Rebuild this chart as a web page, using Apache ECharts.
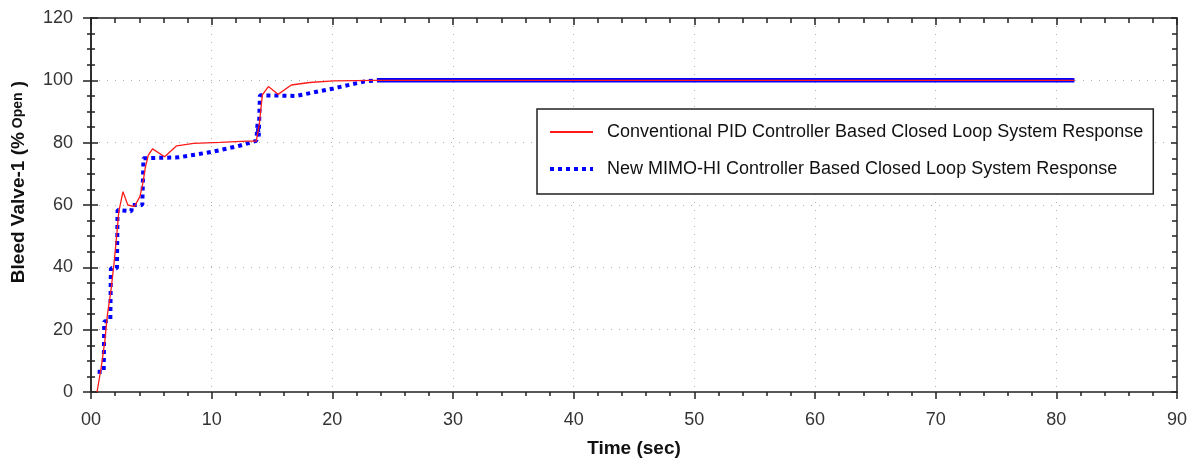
<!DOCTYPE html>
<html>
<head>
<meta charset="utf-8">
<script src="https://cdn.jsdelivr.net/npm/echarts@6/dist/echarts.min.js"></script>
<style>
  html,body{margin:0;padding:0;background:#fff;}
  #chart{width:1196px;height:463px;}
</style>
</head>
<body>
<div id="chart"></div>
<script>
  // series names
  var pidName = 'Conventional PID Controller Based Closed Loop System Response';
  var mimoName = 'New MIMO-HI Controller Based Closed Loop System Response';

  // conventional PID response (time in sec, valve % open)
  var pidTime = [0.5, 0.85, 1.15, 1.35, 1.65, 1.9, 2.1, 2.3, 2.65, 3.05, 3.6, 4.05, 4.3, 4.5, 4.75, 5.1, 6.1, 7.1, 8.5, 10.7, 12.9, 13.7, 13.95, 14.2, 14.7, 15.5, 16.6, 18.1, 20.1, 23.7, 81.5];
  var pidValue = [0, 8, 16.5, 24.5, 32.5, 41, 49, 57.8, 64.3, 60, 59.5, 62.7, 67, 72, 76, 78, 75.5, 79, 79.8, 80.1, 80.5, 80.5, 86, 95.3, 98, 95.5, 98.5, 99.3, 99.8, 100, 100];

  // MIMO-HI response
  var mimoTime = [0.55, 1.05, 1.1, 1.6, 1.65, 2.15, 2.2, 3.35, 3.4, 4.25, 4.35, 7.3, 10.1, 12.3, 13.45, 13.7, 13.8, 13.9, 14.0, 17.0, 20.1, 22.6, 23.7, 81.5];
  var mimoValue = [6.5, 6.4, 22.6, 23, 39.7, 39.7, 58.4, 58, 60, 60, 75, 75.3, 77.1, 79, 80.3, 80.6, 86, 82, 95.2, 95, 97.4, 99.6, 100, 100];
  var steadyFrom = 23.7; // from here the MIMO trace is drawn as a solid band

  // tick labels
  var xTickLabels = ['00', '10', '20', '30', '40', '50', '60', '70', '80', '90'];
  var yTickLabels = ['0', '20', '40', '60', '80', '100', '120'];

  function pairs(t, v){
    var out = [];
    for (var i = 0; i < t.length; i++) out.push([t[i], v[i]]);
    return out;
  }
  var pidData = pairs(pidTime, pidValue);
  var mimoAll = pairs(mimoTime, mimoValue);
  var mimoTransient = mimoAll.filter(function(p){ return p[0] <= steadyFrom; });
  var mimoSteady = mimoAll.filter(function(p){ return p[0] >= steadyFrom; });

  var axisColor = '#222';
  var labelFont = {color:'#333', fontSize:18, fontFamily:'Liberation Sans'};
  var gridLine = {show:true, showMinLine:false, showMaxLine:false, lineStyle:{color:'#b0b0b0', width:1, type:[1, 7]}};

  var myChart = echarts.init(document.getElementById('chart'));
  var option = {
    animation: false,
    backgroundColor: '#fff',
    grid: {left:91, right:19, top:18, bottom:71, containLabel:false},
    legend: {
      orient: 'vertical',
      left: 537,
      top: 109,
      data: [
        {name: pidName},
        {name: mimoName, lineStyle: {width:4, type:[4, 4], color:'#0000ff'}}
      ],
      itemWidth: 43,
      itemHeight: 14,
      itemGap: 19,
      padding: [14, 10, 16, 11],
      borderColor: axisColor,
      borderWidth: 1.5,
      backgroundColor: '#fff',
      selectedMode: false,
      itemStyle: {opacity:0},
      textStyle: {fontSize:18, color:'#111', fontFamily:'Liberation Sans', padding:[0, 0, 0, 9]}
    },
    xAxis: [
      {
        type: 'value', min: 0, max: 90, interval: 10, position: 'bottom',
        axisLine: {show:true, onZero:false, lineStyle:{color:axisColor, width:1.5}},
        axisTick: {show:true, inside:false, length:7, lineStyle:{color:axisColor, width:1.5}},
        minorTick: {show:true, splitNumber:5, length:4, lineStyle:{color:axisColor, width:1.5}},
        splitLine: gridLine,
        axisLabel: Object.assign({margin:19, formatter:function(v){ return xTickLabels[Math.round(v / 10)]; }}, labelFont),
        name: 'Time (sec)',
        nameLocation: 'middle',
        nameGap: 47,
        nameTextStyle: {fontSize:19, fontWeight:'bold', color:'#111', fontFamily:'Liberation Sans'}
      },
      {
        type: 'value', min: 0, max: 90, interval: 10, position: 'top',
        axisLine: {show:true, onZero:false, lineStyle:{color:axisColor, width:1.5}},
        axisTick: {show:true, inside:true, length:7, lineStyle:{color:axisColor, width:1.5}},
        minorTick: {show:true, splitNumber:5, length:5, lineStyle:{color:axisColor, width:1.5}},
        splitLine: {show:false},
        axisLabel: {show:false}
      }
    ],
    yAxis: [
      {
        type: 'value', min: 0, max: 120, interval: 20, position: 'left',
        axisLine: {show:true, onZero:false, lineStyle:{color:axisColor, width:1.5}},
        axisTick: {show:true, inside:false, length:8, lineStyle:{color:axisColor, width:1.5}},
        minorTick: {show:true, splitNumber:4, length:4, lineStyle:{color:axisColor, width:1.5}},
        splitLine: gridLine,
        axisLabel: Object.assign({margin:18, formatter:function(v){ return yTickLabels[Math.round(v / 20)]; }}, labelFont),
        name: '{a|Bleed Valve-1 (%}{b| Open}{a| )}',
        nameLocation: 'middle',
        nameGap: 63,
        nameTextStyle: {
          padding: [0, 0, 0, 46],
          rich: {
            a: {fontSize:19, fontWeight:'bold', color:'#111', fontFamily:'Liberation Sans'},
            b: {fontSize:14, fontWeight:'bold', color:'#111', fontFamily:'Liberation Sans'}
          }
        }
      },
      {
        type: 'value', min: 0, max: 120, interval: 20, position: 'left',
        axisLine: {show:true, onZero:false, lineStyle:{color:axisColor, width:1.5}},
        axisTick: {show:true, inside:true, length:7, lineStyle:{color:axisColor, width:1.5}},
        minorTick: {show:true, splitNumber:4, length:4, lineStyle:{color:axisColor, width:1.5}},
        splitLine: {show:false},
        axisLabel: {show:false}
      },
      {
        type: 'value', min: 0, max: 120, interval: 20, position: 'right',
        axisLine: {show:true, onZero:false, lineStyle:{color:axisColor, width:1.5}},
        axisTick: {show:true, inside:true, length:6, lineStyle:{color:axisColor, width:1.5}},
        minorTick: {show:true, splitNumber:4, length:5, lineStyle:{color:axisColor, width:1.5}},
        splitLine: {show:false},
        axisLabel: {show:false}
      }
    ],
    series: [
      {
        name: mimoName,
        type: 'line',
        data: mimoTransient,
        showSymbol: false,
        symbol: 'none',
        color: '#0000ff',
        lineStyle: {color:'#0000ff', width:4, type:[4, 4], cap:'butt'},
        z: 2
      },
      {
        name: mimoName,
        type: 'line',
        data: mimoSteady,
        showSymbol: false,
        symbol: 'none',
        color: '#0000ff',
        lineStyle: {color:'#0000ff', width:4.5, type:'solid'},
        z: 2
      },
      {
        name: pidName,
        type: 'line',
        data: pidData,
        showSymbol: false,
        symbol: 'none',
        color: '#ff1a1a',
        lineStyle: {color:'#ff1a1a', width:1.3},
        z: 3
      }
    ]
  };
  myChart.setOption(option);
</script>
</body>
</html>
